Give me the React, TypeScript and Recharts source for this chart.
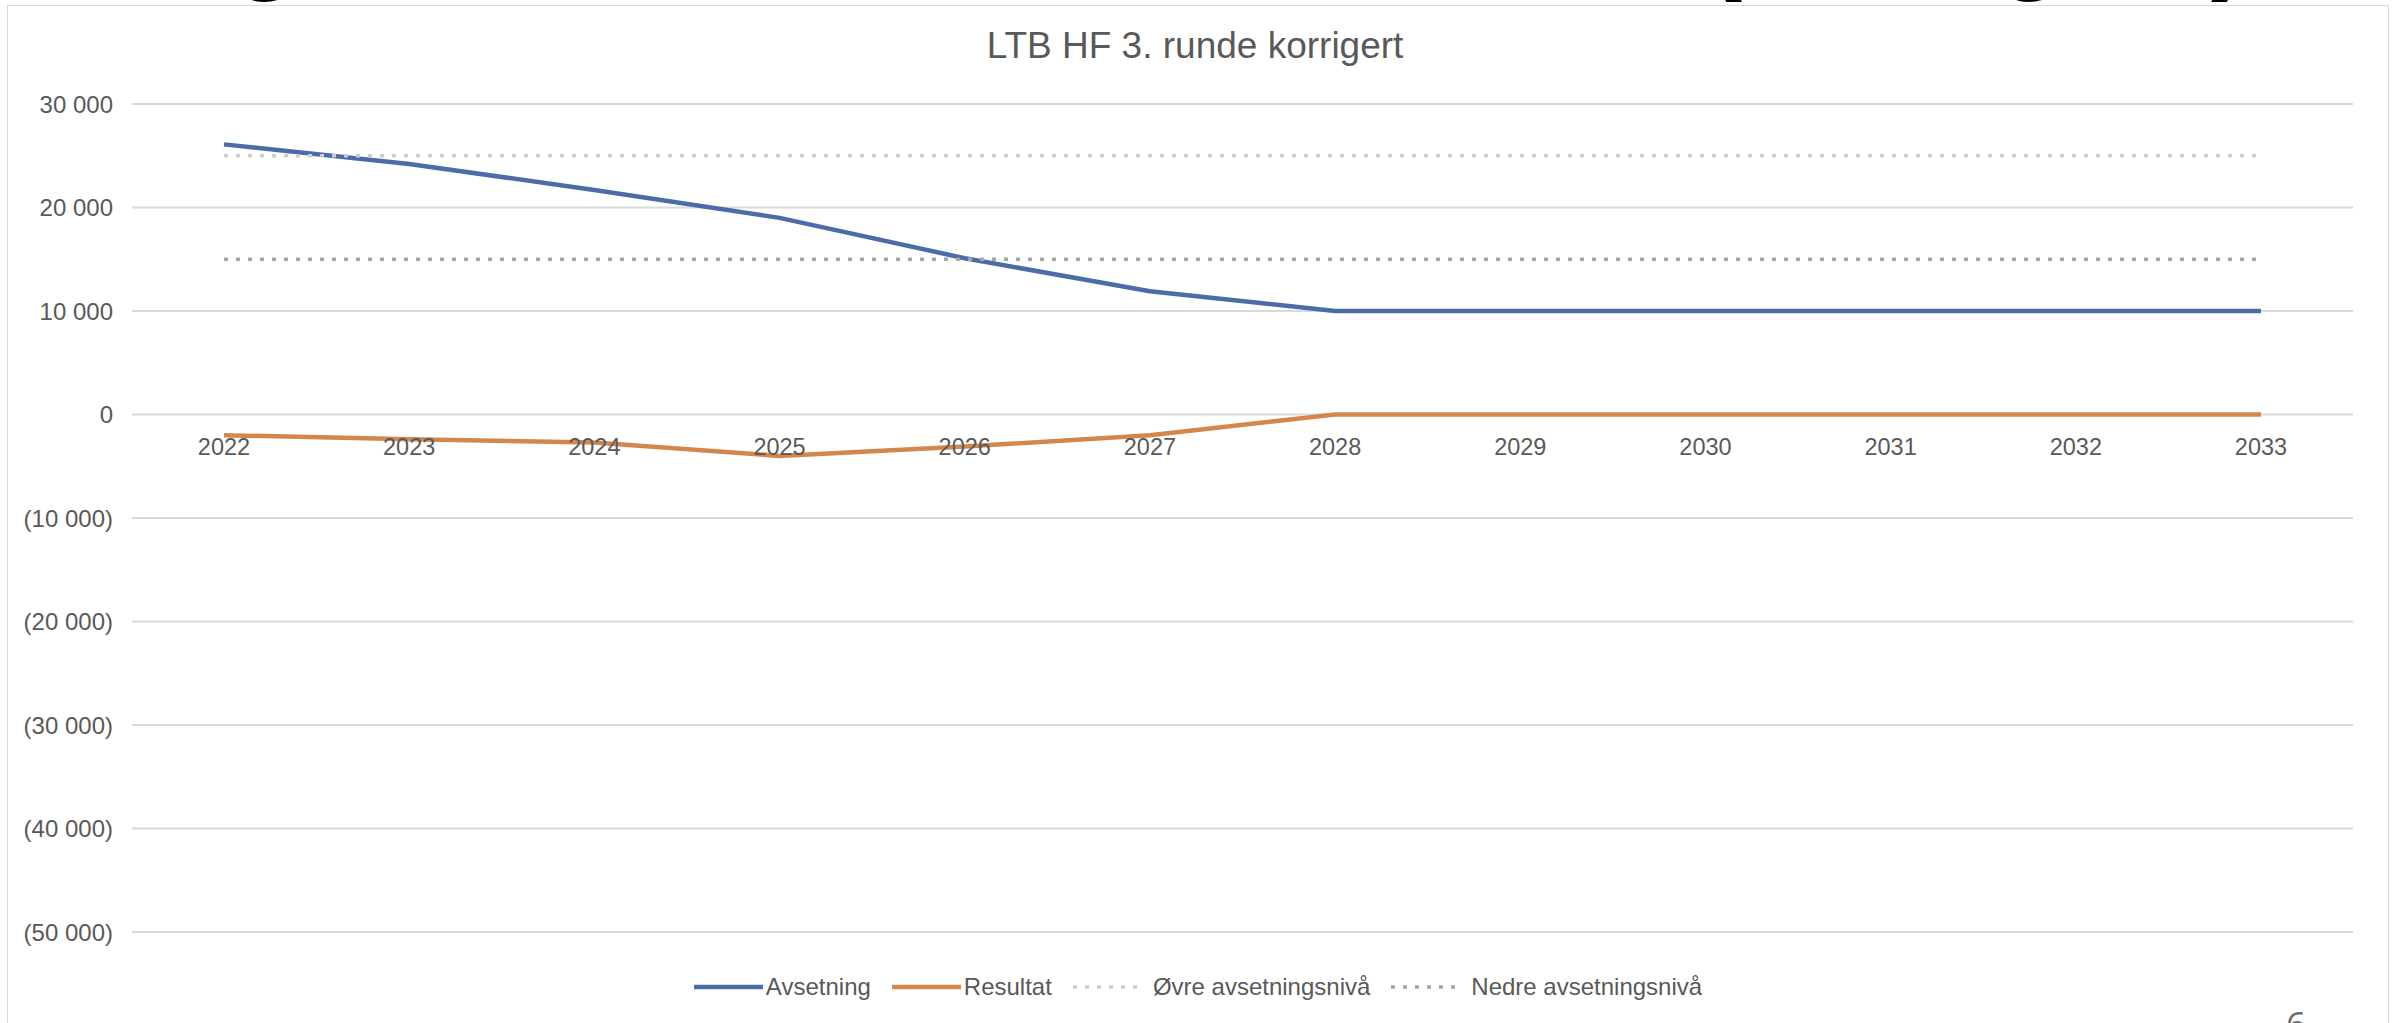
import React from 'react';
import { LineChart, Line, XAxis, YAxis, CartesianGrid, Legend } from 'recharts';

// chart data
const years = ['2022', '2023', '2024', '2025', '2026', '2027', '2028', '2029', '2030', '2031', '2032', '2033'];
const avsetning = [26100, 24200, 21700, 19000, 15100, 11900, 10000, 10000, 10000, 10000, 10000, 10000];
const resultat = [-2000, -2400, -2700, -4000, -3100, -2000, 0, 0, 0, 0, 0, 0];
const ovreNiva = [25000, 25000, 25000, 25000, 25000, 25000, 25000, 25000, 25000, 25000, 25000, 25000];
const nedreNiva = [15000, 15000, 15000, 15000, 15000, 15000, 15000, 15000, 15000, 15000, 15000, 15000];
const yTicks = [-50000, -40000, -30000, -20000, -10000, 0, 10000, 20000, 30000];

const chartTitle = 'LTB HF 3. runde korrigert';
const seriesOrder = ['avsetning', 'resultat', 'ovre', 'nedre'];

const data = years.map((year, i) => ({
  year,
  avsetning: avsetning[i],
  resultat: resultat[i],
  ovre: ovreNiva[i],
  nedre: nedreNiva[i],
}));

const FONT = '"Liberation Sans", Arial, sans-serif';
const TEXT = '#595959';
const BLUE = '#4b6ca9';
const ORANGE = '#d4874d';
const LIGHT_GREY = '#cdcdcd';
const MID_GREY = '#a6a6a6';

const CHART_W = 2380;
const CHART_H = 1017;
const MARGIN = { top: 98, right: 35, bottom: 21, left: 0 };
const LEGEND_H = 30;
const XAXIS_H = 40;
const PLOT_H = CHART_H - MARGIN.top - MARGIN.bottom - LEGEND_H - XAXIS_H;
const Y_MIN = -50000;
const Y_MAX = 30000;
// distance from plot bottom up to the 0 line, so year labels sit under the zero line
const ZERO_SHIFT = (PLOT_H * (0 - Y_MIN)) / (Y_MAX - Y_MIN);

const fmtNum = (v: number) => {
  const s = String(Math.abs(v)).replace(/\B(?=(\d{3})+(?!\d))/g, ' ');
  return v < 0 ? `(${s})` : s;
};

const XTick = (props: any) => {
  const { x, y, payload } = props;
  return (
    <text
      x={x}
      y={y - ZERO_SHIFT + 38}
      textAnchor="middle"
      fill={TEXT}
      fontSize={23.5}
      fontFamily={FONT}
    >
      {payload.value}
    </text>
  );
};

const dashes: Record<string, string | undefined> = {
  avsetning: undefined,
  resultat: undefined,
  ovre: '4 8',
  nedre: '4 8',
};

const LegendContent = (props: any) => {
  const payload = [...(props.payload || [])].sort(
    (a: any, b: any) => seriesOrder.indexOf(a.dataKey) - seriesOrder.indexOf(b.dataKey)
  );
  return (
    <div
      style={{
        display: 'flex',
        justifyContent: 'center',
        alignItems: 'center',
        height: LEGEND_H,
        fontFamily: FONT,
        fontSize: 24,
        color: TEXT,
      }}
    >
      {payload.map((entry: any, i: number) => {
        const dash = dashes[entry.dataKey];
        return (
          <div
            key={entry.value}
            style={{ display: 'flex', alignItems: 'center', marginRight: i === payload.length - 1 ? 0 : 21 }}
          >
            <svg width={dash ? 72 : 69} height={12}>
              <line
                x1={0}
                y1={6}
                x2={dash ? 72 : 69}
                y2={6}
                stroke={entry.color}
                strokeWidth={dash ? 3.5 : 4.5}
                strokeDasharray={dash}
              />
            </svg>
            <span style={{ marginLeft: dash ? 8 : 3, whiteSpace: 'nowrap' }}>{entry.value}</span>
          </div>
        );
      })}
    </div>
  );
};

const HEAD_FONT = '"Liberation Sans", Arial, sans-serif';

export default function App() {
  return (
    <div
      style={{
        position: 'fixed',
        left: 0,
        top: 0,
        width: 2400,
        height: 1023,
        background: '#fff',
        overflow: 'hidden',
      }}
    >
      {/* slide heading, mostly cut off above the chart box */}
      <svg width={2400} height={40} style={{ position: 'absolute', left: 0, top: 0 }}>
        <text x={-246} y={-22} fontFamily={HEAD_FONT} fontWeight={700} fontSize={114} fill="#000">
          Avsetning i LTB HF,
        </text>
        <text x={2249} y={-22} textAnchor="end" fontFamily={HEAD_FONT} fontWeight={700} fontSize={114} fill="#000">
          3. runde (korrigert)
        </text>
      </svg>

      <div
        style={{
          position: 'absolute',
          left: 7,
          top: 5,
          width: CHART_W,
          height: 1030,
          border: '1px solid #d9d9d9',
          background: '#fff',
        }}
      >
        <LineChart width={CHART_W} height={CHART_H} data={data} margin={MARGIN}>
          <CartesianGrid vertical={false} stroke="#dadada" strokeWidth={2} />
          <XAxis
            dataKey="year"
            interval={0}
            padding={{ left: 92, right: 92 }}
            axisLine={false}
            tickLine={false}
            tickSize={0}
            height={XAXIS_H}
            tick={(p: any) => <XTick {...p} />}
          />
          <YAxis
            width={124}
            domain={[Y_MIN, Y_MAX]}
            ticks={yTicks}
            interval={0}
            tickFormatter={fmtNum}
            axisLine={false}
            tickLine={false}
            tickSize={0}
            tickMargin={19}
            tick={{ fontSize: 24, fill: TEXT, fontFamily: FONT }}
          />
          <Legend
            verticalAlign="bottom"
            height={LEGEND_H}
            wrapperStyle={{ left: 0, width: CHART_W }}
            content={(p: any) => <LegendContent {...p} />}
          />
          <Line
            name="Avsetning"
            dataKey="avsetning"
            type="linear"
            stroke={BLUE}
            strokeWidth={4.5}
            dot={false}
            isAnimationActive={false}
          />
          <Line
            name="Resultat"
            dataKey="resultat"
            type="linear"
            stroke={ORANGE}
            strokeWidth={4.5}
            dot={false}
            isAnimationActive={false}
          />
          <Line
            name="Øvre avsetningsnivå"
            dataKey="ovre"
            type="linear"
            stroke={LIGHT_GREY}
            strokeWidth={3.5}
            strokeDasharray="4 8"
            dot={false}
            isAnimationActive={false}
          />
          <Line
            name="Nedre avsetningsnivå"
            dataKey="nedre"
            type="linear"
            stroke={MID_GREY}
            strokeWidth={3.5}
            strokeDasharray="4 8"
            dot={false}
            isAnimationActive={false}
          />
        </LineChart>
      </div>

      {/* chart title and slide number on top */}
      <svg width={2400} height={1023} style={{ position: 'absolute', left: 0, top: 0, pointerEvents: 'none' }}>
        <text x={1195} y={58} textAnchor="middle" fontFamily={FONT} fontSize={37} fill={TEXT}>
          {chartTitle}
        </text>
        <text x={2296} y={1038} textAnchor="middle" fontFamily='"Open Sans", sans-serif' fontSize={36} fill="#6f6f6f">
          6
        </text>
      </svg>
    </div>
  );
}
